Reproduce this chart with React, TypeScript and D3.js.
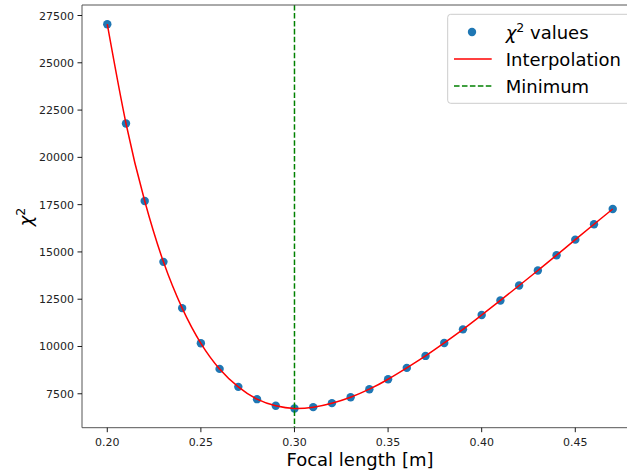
import React from "react";
import * as d3 from "d3";

const focalLengths = [0.20,0.21,0.22,0.23,0.24,0.25,0.26,0.27,0.28,0.29,0.30,0.31,0.32,0.33,0.34,0.35,0.36,0.37,0.38,0.39,0.40,0.41,0.42,0.43,0.44,0.45,0.46,0.47];
const chi2Values = [27040,21790,17690,14475,12030,10170,8815,7865,7215,6863,6722,6793,7004,7320,7742,8269,8869,9502,10188,10905,11664,12434,13225,14016,14828,15650,16463,17270];
const minimumX = 0.30;
const xTicks = [0.20,0.25,0.30,0.35,0.40,0.45];
const yTicks = [7500,10000,12500,15000,17500,20000,22500,25000,27500];
const legendLabels = ["values", "Interpolation", "Minimum"];

const W = 627, H = 473;
const left = 82, top = 5, bottom = 427.7, right = 638;
const font = "DejaVu Sans, sans-serif";

export default function App() {
  const xmin = d3.min(focalLengths)!, xmax = d3.max(focalLengths)!;
  const ymin = d3.min(chi2Values)!, ymax = d3.max(chi2Values)!;
  const xm = (xmax - xmin) * 0.05, ym = (ymax - ymin) * 0.05;
  const x = d3.scaleLinear().domain([xmin - xm, xmax + xm]).range([left, right]);
  const y = d3.scaleLinear().domain([ymin - ym, ymax + ym]).range([bottom, top]);
  const pts = focalLengths.map((f, i) => [f, chi2Values[i]] as [number, number]);
  const line = d3.line<[number, number]>().x(d => x(d[0])).y(d => y(d[1])).curve(d3.curveNatural);
  const spine = "#555";
  const lx = 447.7, ly = 14.3;
  return (
    <svg width={W} height={H} style={{ position: "absolute", left: 0, top: 0 }} fontFamily={font}>
      <rect x={0} y={0} width={W} height={H} fill="#fff" />
      <defs>
        <clipPath id="plot"><rect x={left} y={top} width={right - left} height={bottom - top} /></clipPath>
      </defs>
      <g clipPath="url(#plot)">
        {pts.map((p, i) => (
          <circle key={i} cx={x(p[0])} cy={y(p[1])} r={4.2} fill="#1f77b4" />
        ))}
        <path d={line(pts)!} fill="none" stroke="#ff0000" strokeWidth={1.5} />
        <line x1={x(minimumX)} x2={x(minimumX)} y1={top} y2={bottom} stroke="#008000" strokeWidth={1.5} strokeDasharray="5.55,2.4" />
      </g>
      {/* spines */}
      <line x1={left} x2={left} y1={top} y2={bottom} stroke={spine} strokeWidth={1} />
      <line x1={left} x2={W} y1={bottom} y2={bottom} stroke={spine} strokeWidth={1} />
      <line x1={left} x2={W} y1={top} y2={top} stroke={spine} strokeWidth={1} />
      {/* x ticks */}
      {xTicks.map(t => (
        <g key={t}>
          <line x1={x(t)} x2={x(t)} y1={bottom} y2={bottom + 4.5} stroke="#000" strokeWidth={0.9} />
          <text x={x(t)} y={bottom + 18} fontSize={11} textAnchor="middle" fill="#222">{t.toFixed(2)}</text>
        </g>
      ))}
      {yTicks.map(t => (
        <g key={t}>
          <line x1={left - 4.5} x2={left} y1={y(t)} y2={y(t)} stroke="#000" strokeWidth={0.9} />
          <text x={left - 8} y={y(t) + 4} fontSize={11} textAnchor="end" fill="#222">{t}</text>
        </g>
      ))}
      <text x={(left + right) / 2 - 0} y={466} fontSize={18} textAnchor="middle" fill="#000">Focal length [m]</text>
      <g transform={`translate(32,217) rotate(-90)`}>
        <text x={0} y={0} fontSize={18} textAnchor="middle" fill="#000">
          <tspan fontStyle="italic">χ</tspan>
          <tspan fontSize={12.5} dy={-7}>2</tspan>
        </text>
      </g>
      {/* legend */}
      <rect x={lx} y={ly} width={W - lx + 10} height={103.3 - ly} rx={3} fill="#fff" fillOpacity={0.8} stroke="#ccc" strokeWidth={1} />
      <circle cx={472} cy={32} r={4.2} fill="#1f77b4" />
      <text x={505.7} y={38.5} fontSize={18} fill="#000">
        <tspan fontStyle="italic">χ</tspan>
        <tspan fontSize={12.5} dy={-7}>2</tspan>
        <tspan dy={7}>{" " + legendLabels[0]}</tspan>
      </text>
      <line x1={454} x2={491.7} y1={59} y2={59} stroke="#ff0000" strokeWidth={1.5} />
      <text x={505.7} y={65.5} fontSize={18} fill="#000">{legendLabels[1]}</text>
      <line x1={454} x2={491.7} y1={86} y2={86} stroke="#008000" strokeWidth={1.5} strokeDasharray="5.55,2.4" />
      <text x={505.7} y={92.5} fontSize={18} fill="#000">{legendLabels[2]}</text>
    </svg>
  );
}
